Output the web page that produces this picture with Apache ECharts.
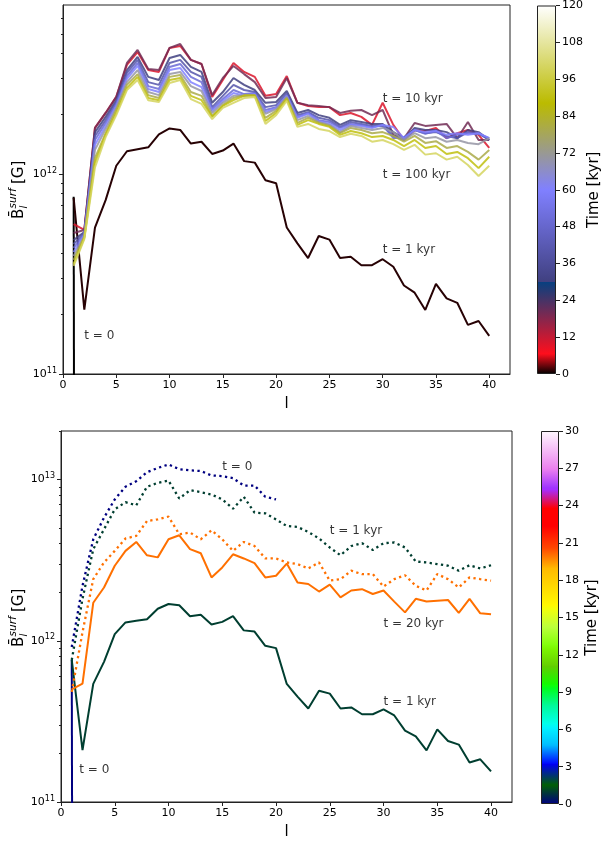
<!DOCTYPE html>
<html><head><meta charset="utf-8">
<script src="https://cdn.jsdelivr.net/npm/echarts@6/dist/echarts.min.js"></script>
<style>html,body{margin:0;padding:0;background:#fff}#c{width:603px;height:841px}</style>
</head><body><div id="c"></div>
<script>
// ---------------- data (field values in units of 1e11 G) ----------------
const UNIT = 1e11;
const ells = [1,2,3,4,5,6,7,8,9,10,11,12,13,14,15,16,17,18,19,20,21,22,23,24,25,26,27,28,29,30,31,32,33,34,35,36,37,38,39,40];
// B=0 for l>=2 at t=0 (drawn as a clipped drop, like a log plot of zero)
const ZERO_FLOOR = 1e-30;

// top panel: snapshot times (kyr)
const topTimes = [0, 1, 10, 20, 30, 40, 50, 60, 70, 80, 90, 100];
const top_t0   = [7.7, ZERO_FLOOR];
const top_t1   = [7.6,2.1,5.4,7.4,11.0,13.0,13.3,13.6,15.8,16.9,16.6,14.2,14.5,12.6,13.1,14.2,11.6,11.4,9.3,9.0,5.4,4.5,3.8,4.9,4.7,3.8,3.86,3.5,3.5,3.75,3.44,2.77,2.55,2.09,2.82,2.39,2.27,1.76,1.84,1.55];
const top_t10  = [5.62,5.25,17.0,20.2,24.3,35.1,40.7,33.1,32.4,42.7,43.7,37.2,35.5,24.3,29.5,35.9,32.4,30.6,24.6,25.1,30.9,22.7,21.9,21.6,21.6,19.7,20.2,19.3,17.6,22.7,17.6,14.8,16.6,16.4,17.0,15.1,16.0,16.6,15.7,13.5];
const top_t20  = [5.07,5.25,17.0,20.2,24.3,35.9,41.7,33.5,33.1,42.7,44.7,37.2,35.5,24.8,30.2,34.7,31.6,28.8,24.0,24.3,30.2,22.7,22.1,21.9,21.6,20.2,20.7,20.9,19.7,20.9,15.7,15.1,18.0,17.4,17.6,17.8,15.1,18.2,14.8,14.8];
const top_t30  = [4.68,5.13,16.2,19.3,23.4,33.1,38.5,30.6,29.5,38.0,39.4,34.3,32.4,22.7,25.7,30.2,27.9,26.3,22.7,22.9,26.0,20.2,20.9,19.7,19.1,17.6,18.6,18.2,17.8,17.8,16.2,15.1,17.0,16.6,16.6,16.2,15.1,16.6,16.2,14.8];
const top_t40  = [4.47,5.07,15.5,18.6,22.9,32.0,37.2,28.8,27.9,35.9,37.2,32.4,30.6,21.6,24.6,27.9,26.3,25.7,21.6,22.1,25.4,19.7,20.4,19.1,18.6,17.2,18.2,17.8,17.4,17.4,15.5,14.8,16.6,16.0,16.2,15.5,15.1,16.2,15.9,14.8];
const top_t50  = [4.27,5.01,14.8,18.0,22.4,30.9,35.9,27.5,26.6,34.3,35.5,30.6,28.8,21.1,23.7,26.3,25.1,25.4,20.9,21.6,24.8,19.3,20.2,18.6,18.2,17.0,17.8,17.6,17.2,17.6,15.1,15.3,16.6,15.9,16.4,15.1,15.7,16.0,15.9,15.1];
const top_t60  = [4.07,4.95,14.0,17.4,21.9,29.9,34.7,26.6,25.7,33.1,33.9,28.8,27.2,20.7,23.2,25.4,24.6,25.1,20.4,21.4,24.6,19.1,20.0,18.4,17.8,16.6,17.6,17.4,17.0,17.6,17.2,15.1,16.6,16.2,16.4,15.7,16.0,15.7,16.0,15.1];
const top_t70  = [3.89,4.90,13.2,16.8,21.4,28.8,33.1,25.7,24.8,31.6,32.4,27.5,26.0,20.2,22.7,24.6,24.6,24.8,20.0,21.1,24.3,18.6,19.5,18.2,17.6,16.2,17.4,17.0,16.6,17.0,16.2,14.8,16.0,15.1,15.3,14.5,14.8,14.3,14.1,15.1];
const top_t80  = [3.72,4.84,12.0,16.0,20.9,27.9,31.6,24.8,24.0,30.6,31.3,25.7,24.6,19.5,22.1,24.0,24.8,24.8,19.1,20.7,24.0,18.0,19.1,18.0,17.4,16.0,17.0,16.6,16.0,16.2,15.5,14.5,15.5,14.3,14.6,13.5,13.8,12.9,11.8,13.2];
const top_t90  = [3.55,4.79,11.4,15.7,20.2,26.9,30.6,24.0,23.4,29.5,30.2,24.6,23.4,19.3,21.9,23.4,24.6,24.6,18.4,20.2,23.7,17.6,18.6,17.8,17.2,15.7,16.4,16.0,15.3,15.5,14.8,13.8,14.8,13.5,13.8,12.6,12.9,12.0,10.7,12.2];
const top_t100 = [3.47,4.73,10.8,15.3,19.7,26.3,29.5,23.4,22.9,28.5,29.5,23.7,22.4,18.8,21.4,22.7,24.0,24.3,17.8,19.7,23.2,17.2,17.8,16.8,16.4,15.3,15.9,15.5,14.5,14.8,14.1,13.2,14.0,12.5,12.7,11.8,12.2,11.1,9.77,11.0];
const topSeriesData = [top_t0, top_t1, top_t10, top_t20, top_t30, top_t40, top_t50, top_t60, top_t70, top_t80, top_t90, top_t100];

// bottom panel
const bot_t0_solid  = [7.6, ZERO_FLOOR];
const bot_t1_solid  = [7.6,2.1,5.4,7.4,11.0,13.0,13.3,13.6,15.8,16.9,16.6,14.2,14.5,12.6,13.1,14.2,11.6,11.4,9.3,9.0,5.4,4.5,3.8,4.9,4.7,3.8,3.86,3.5,3.5,3.75,3.44,2.77,2.55,2.09,2.82,2.39,2.27,1.76,1.84,1.55];
const bot_t20_solid = [5.0,5.43,17.2,21.4,29.2,36.1,41.0,33.9,32.9,42.6,45.1,37.0,34.9,24.7,28.5,34.4,32.4,30.3,24.7,25.3,30.1,23.0,22.5,20.2,22.3,18.6,20.5,20.9,19.5,20.5,17.5,15.0,18.2,17.5,17.7,17.9,14.9,18.2,14.8,14.6];
const bot_t0_dot    = [9.14,21.9,42.6,58.0,75.3,90.2,97.7,111,118,124,116,114,113,106,105,102,91.8,91.8,78.2,75.3];
const bot_t1_dot    = [7.6,18.2,37.0,49.1,65.3,72.4,69.2,90.2,95.4,98.6,76.3,85.9,83.5,80.8,75.3,65.9,78.2,62.3,61.7,56.6,51.5,50.8,47.3,43.1,37.9,33.9,38.7,40.3,36.6,40.3,40.7,37.9,31.0,30.6,29.9,29.2,27.2,29.4,28.1,29.4];
const bot_t20_dot   = [4.82,11.3,24.1,30.6,36.1,43.1,44.7,55.3,56.6,58.9,45.8,46.9,42.6,48.4,42.6,36.1,41.0,38.7,32.4,32.4,30.6,29.9,28.1,30.6,23.6,24.1,27.2,25.9,25.9,21.7,24.1,25.5,21.9,20.5,25.9,24.1,21.4,24.7,24.1,23.6];
const botTimes = [0, 1, 20];

// annotations
const topNoteText = ['t = 10 kyr', 't = 100 kyr', 't = 1 kyr', 't = 0'];
const topNoteL    = [30, 30, 30, 2];
const topNoteB    = [23.7, 9.9, 4.17, 1.55];
const botNoteText = ['t = 0', 't = 1 kyr', 't = 20 kyr', 't = 1 kyr', 't = 0'];
const botNoteL    = [15, 25, 30, 30, 1.7];
const botNoteB    = [119, 47.8, 12.7, 4.2, 1.58];

// axes / tick labels
const xTickInterval = 5;
const topYMajor = [1e11, 1e12];
const topYMinor = [2e11,3e11,4e11,5e11,6e11,7e11,8e11,9e11,2e12,3e12,4e12,5e12,6e12];
const botYMajor = [1e11, 1e12, 1e13];
const botYMinor = [2e11,3e11,4e11,5e11,6e11,7e11,8e11,9e11,2e12,3e12,4e12,5e12,6e12,7e12,8e12,9e12,2e13];
const topCbarMax = 120, topCbarStep = 12;
const botCbarMax = 30,  botCbarStep = 3;

// ---------------- colormaps (matplotlib gist_stern / gist_ncar) ----------------
const GIST_STERN = {
  r: [[0,0,0],[0.0547,1,1],[0.25,0.027,0.25],[1,1,1]],
  g: [[0,0,0],[1,1,1]],
  b: [[0,0,0],[0.5,1,1],[0.735,0,0],[1,1,1]]
};
const GIST_NCAR = {
  r: [[0,0,0],[0.3098,0,0],[0.3725,0.3993,0.3993],[0.4235,0.5003,0.5003],[0.5333,1,1],[0.7922,1,1],[0.8471,0.6218,0.6218],[0.898,0.9235,0.9235],[1,0.9961,0.9961]],
  g: [[0,0,0],[0.051,0.3722,0.3722],[0.1059,0,0],[0.1569,0.7202,0.7202],[0.1608,0.7537,0.7537],[0.1647,0.7752,0.7752],[0.2157,1,1],[0.2588,0.9804,0.9804],[0.2706,0.9804,0.9804],[0.3176,1,1],[0.3686,0.8081,0.8081],[0.4275,1,1],[0.5216,1,1],[0.6314,0.7292,0.7292],[0.6863,0.2796,0.2796],[0.7451,0,0],[0.7922,0,0],[0.8431,0.1753,0.1753],[0.898,0.5,0.5],[1,0.9725,0.9725]],
  b: [[0,0.502,0.502],[0.051,0.0222,0.0222],[0.1098,1,1],[0.2039,1,1],[0.2627,0.6145,0.6145],[0.3216,0,0],[0.4157,0,0],[0.4745,0.2342,0.2342],[0.5333,0,0],[0.5804,0,0],[0.6314,0,0],[0.6863,0,0],[0.7451,0,0],[0.7922,0,0],[0.8431,1,1],[0.898,0.9341,0.9341],[1,0.9961,0.9961]]
};
function chan(tab, x, right) {
  for (let i = 0; i < tab.length; i++) {
    if (Math.abs(x - tab[i][0]) < 1e-9) return right ? tab[i][2] : tab[i][1];
    if (x < tab[i][0]) { const a = tab[i-1], b = tab[i]; return a[2] + (x - a[0]) / (b[0] - a[0]) * (b[1] - a[2]); }
  }
  return tab[tab.length-1][2];
}
function cmap(cm, x, right) {
  const c = v => Math.round(Math.max(0, Math.min(1, v)) * 255);
  return 'rgb(' + c(chan(cm.r, x, right)) + ',' + c(chan(cm.g, x, right)) + ',' + c(chan(cm.b, x, right)) + ')';
}
function cmapGradient(cm) {
  const xs = [...new Set([...cm.r, ...cm.g, ...cm.b].map(p => p[0]))].sort((a, b) => a - b);
  const stops = [];
  xs.forEach(x => {
    stops.push({offset: x, color: cmap(cm, x, false)});
    stops.push({offset: x, color: cmap(cm, x, true)});
  });
  return {type: 'linear', x: 0, y: 1, x2: 0, y2: 0, colorStops: stops};
}

// ---------------- build option ----------------
const FONT = 'DejaVu Sans';
const FRAME = '#222';
const toData = arr => arr.map((v, i) => [ells[i], v * UNIT]);

function lineSeries(arr, color, gi, dotted, opacity, z) {
  return {
    type: 'line', xAxisIndex: gi, yAxisIndex: gi * 2, data: toData(arr),
    symbol: 'none', showSymbol: false, silent: true, animation: false, z: z,
    clip: true,
    lineStyle: {color: color, width: dotted ? 2.3 : 2, type: dotted ? [2.3, 3.4] : 'solid', cap: 'butt', opacity: opacity}
  };
}
function noteSeries(texts, ls, bs, gi) {
  return {
    type: 'scatter', xAxisIndex: gi, yAxisIndex: gi * 2, symbolSize: 0, silent: true, z: 20, animation: false,
    data: texts.map((t, i) => ({value: [ls[i], bs[i] * UNIT], label: {formatter: t}})),
    label: {show: true, position: 'right', distance: 0, fontFamily: FONT, fontSize: 12, color: '#000'}
  };
}
function powLabel(v) {
  const e = Math.log10(v);
  if (Math.abs(e - Math.round(e)) > 1e-6) return '';
  return '10{s|' + Math.round(e) + '}';
}
function xAxisDef(gi) {
  return {
    type: 'value', gridIndex: gi, min: 0, max: 41.95, interval: xTickInterval,
    axisLine: {show: true, lineStyle: {color: FRAME, width: 1}},
    axisTick: {show: true, length: 4, lineStyle: {color: FRAME}},
    axisLabel: {fontFamily: FONT, fontSize: 11, color: '#000', margin: 6, showMaxLabel: false},
    splitLine: {show: false},
    name: 'l', nameLocation: 'middle', nameGap: 23,
    nameTextStyle: {fontFamily: FONT, fontSize: 15, color: '#000'}
  };
}
function yMajor(gi, max, majors) {
  return {
    type: 'log', logBase: 10, gridIndex: gi, min: 1e11, max: max,
    axisLine: {show: true, lineStyle: {color: FRAME, width: 1}},
    axisTick: {show: true, length: 4, lineStyle: {color: FRAME}, customValues: majors},
    axisLabel: {show: true, customValues: majors, formatter: powLabel, fontFamily: FONT, fontSize: 11, color: '#000', margin: 6,
      rich: {s: {fontFamily: FONT, fontSize: 8, color: '#000', padding: [0, 0, 7, 0]}}},
    splitLine: {show: false}, minorTick: {show: false}
  };
}
function yMinor(gi, max, minors) {
  return {
    type: 'log', logBase: 10, gridIndex: gi, min: 1e11, max: max, position: 'left',
    axisLine: {show: false},
    axisTick: {show: true, length: 2, lineStyle: {color: FRAME}, customValues: minors},
    axisLabel: {show: false}, splitLine: {show: false}
  };
}
function cbarAxis(gi, max, step, gap) {
  return {
    type: 'value', gridIndex: gi, min: 0, max: max, interval: step, position: 'right',
    axisLine: {show: false},
    axisTick: {show: true, length: 4, lineStyle: {color: FRAME}},
    axisLabel: {fontFamily: FONT, fontSize: 11, color: '#000', margin: 6},
    splitLine: {show: false},
    name: 'Time [kyr]', nameLocation: 'middle', nameRotate: 90, nameGap: gap,
    nameTextStyle: {fontFamily: FONT, fontSize: 15, color: '#000'}
  };
}
function yLabelGraphic(cx, cy) {
  const st = (text, size, italic) => ({text: text, fontFamily: FONT, fontSize: size, fontStyle: italic ? 'italic' : 'normal', fill: '#000', align: 'left', verticalAlign: 'middle'});
  return {
    type: 'group', x: cx, y: cy, rotation: Math.PI / 2, silent: true,
    children: [
      {type: 'text', x: -30, y: 0, style: st('B\u0304', 15, false)},
      {type: 'text', x: -19.5, y: -6, style: st('surf', 10.5, true)},
      {type: 'text', x: -19.5, y: 5, style: st('l', 10.5, true)},
      {type: 'text', x: 5, y: 0, style: st('[G]', 15, false)}
    ]
  };
}

const series = [];
// top panel lines
topSeriesData.forEach((arr, i) => {
  const t = topTimes[i];
  series.push(lineSeries(arr, cmap(GIST_STERN, t / topCbarMax, true), 0, false, i < 2 ? 1 : 0.85, 5 + i));
});
series.push(noteSeries(topNoteText, topNoteL, topNoteB, 0));
// bottom panel lines
const botSolid = [bot_t0_solid, bot_t1_solid, bot_t20_solid];
const botDot = [bot_t0_dot, bot_t1_dot, bot_t20_dot];
botSolid.forEach((arr, i) => series.push(lineSeries(arr, cmap(GIST_NCAR, botTimes[i] / botCbarMax, true), 1, false, 1, 5 + i)));
botDot.forEach((arr, i) => series.push(lineSeries(arr, cmap(GIST_NCAR, botTimes[i] / botCbarMax, true), 1, true, 1, 8 + i)));
series.push(noteSeries(botNoteText, botNoteL, botNoteB, 1));
// colorbars
series.push({type: 'bar', xAxisIndex: 2, yAxisIndex: 4, data: [topCbarMax], barWidth: '100%', silent: true, animation: false,
  itemStyle: {color: cmapGradient(GIST_STERN), borderColor: FRAME, borderWidth: 1}});
series.push({type: 'bar', xAxisIndex: 3, yAxisIndex: 5, data: [botCbarMax], barWidth: '100%', silent: true, animation: false,
  itemStyle: {color: cmapGradient(GIST_NCAR), borderColor: FRAME, borderWidth: 1}});

const option = {
  animation: false,
  backgroundColor: '#fff',
  textStyle: {fontFamily: FONT},
  grid: [
    {left: 63, top: 5, width: 447, height: 369, show: true, borderColor: FRAME, borderWidth: 1, backgroundColor: 'transparent'},
    {left: 61, top: 431, width: 451, height: 373, show: true, borderColor: FRAME, borderWidth: 1, backgroundColor: 'transparent'},
    {left: 537, top: 5, width: 19, height: 369},
    {left: 541, top: 431, width: 18, height: 373}
  ],
  xAxis: [
    xAxisDef(0), xAxisDef(1),
    {type: 'category', gridIndex: 2, data: [''], show: false},
    {type: 'category', gridIndex: 3, data: [''], show: false}
  ],
  yAxis: [
    yMajor(0, 7e12, topYMajor), yMinor(0, 7e12, topYMinor),
    yMajor(1, 2e13, botYMajor), yMinor(1, 2e13, botYMinor),
    cbarAxis(2, topCbarMax, topCbarStep, 29), cbarAxis(3, botCbarMax, botCbarStep, 26)
  ],
  graphic: [yLabelGraphic(19, 189), yLabelGraphic(19, 617)],
  series: series
};
const chart = echarts.init(document.getElementById('c'), null, {renderer: 'canvas'});
chart.setOption(option);
</script>
</body></html>
